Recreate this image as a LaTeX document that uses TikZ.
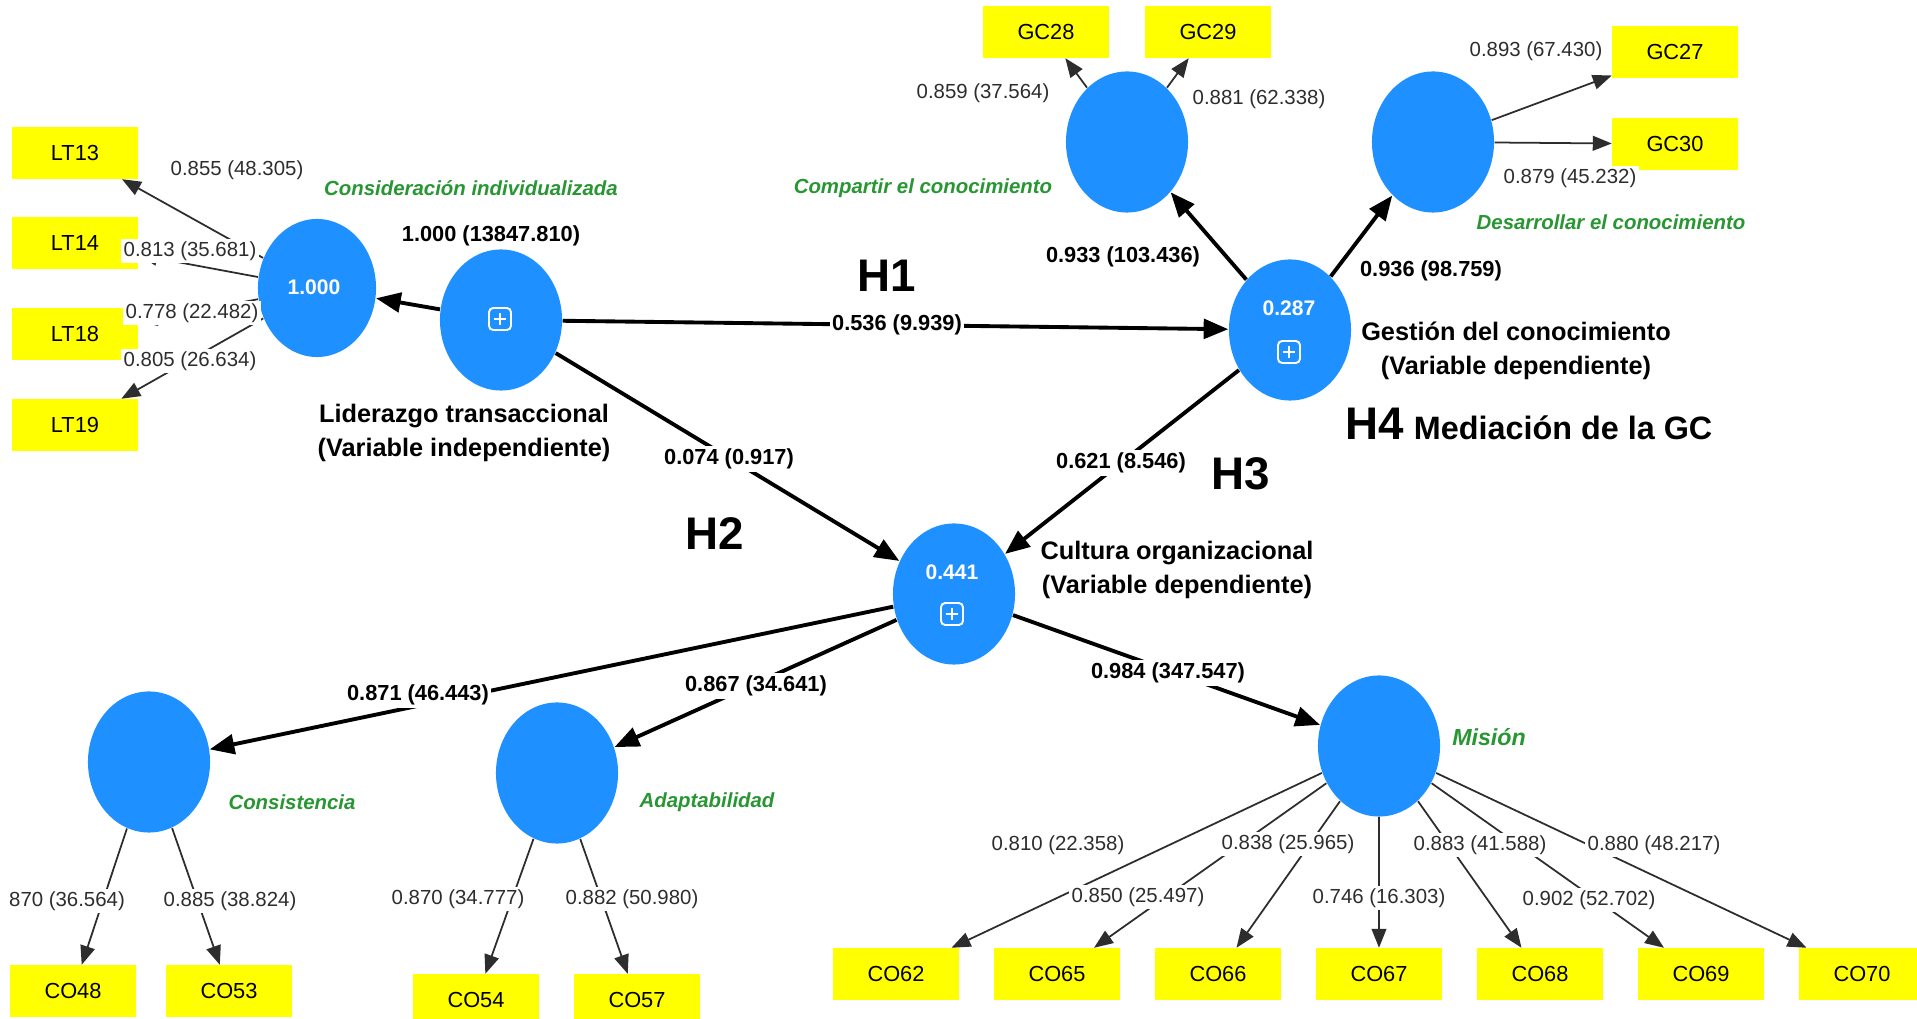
\documentclass[tikz,border=0pt]{standalone}
\usepackage{fontspec}
\setmainfont{Liberation Sans}
\usetikzlibrary{shapes.geometric,arrows.meta}
\definecolor{plsblue}{RGB}{30,144,255}
\definecolor{indyellow}{RGB}{255,255,0}
\definecolor{dimgreen}{RGB}{40,150,50}
\definecolor{coefgray}{RGB}{45,45,45}
\tikzset{
  lv/.style={ellipse, fill=plsblue, draw=none, minimum width=1.22cm, minimum height=1.41cm, inner sep=0pt},
  ind/.style={rectangle, fill=indyellow, minimum width=1.25cm, minimum height=0.51cm, inner sep=0pt, font=\fontsize{6.2}{7}\selectfont},
  coef/.style={fill=white, inner sep=0.7pt, text=coefgray, font=\fontsize{5.8}{6.5}\selectfont},
  pcoef/.style={fill=white, inner sep=0.7pt, font=\bfseries\fontsize{6.2}{7}\selectfont},
  hyp/.style={font=\bfseries\fontsize{13}{15}\selectfont, inner sep=0pt},
  vname/.style={font=\bfseries\fontsize{7.2}{9.7}\selectfont, align=center, inner sep=0pt},
  dname/.style={text=dimgreen, font=\bfseries\itshape\fontsize{5.8}{7}\selectfont, inner sep=0pt},
  rsq/.style={text=white, font=\bfseries\fontsize{6}{7}\selectfont, inner sep=0pt},
  patharrow/.style={draw=black, line width=1.1pt, -{Triangle[length=7pt,width=5.6pt]}},
  loadarrow/.style={draw=coefgray, line width=0.5pt, -{Triangle[length=5.4pt,width=4.2pt]}},
  plusbox/.style={draw=white, line width=0.55pt, rounded corners=1.2pt, minimum size=0.22cm, inner sep=0pt,
    path picture={
      \draw[white, line width=0.55pt]
        ([yshift=0.5mm]path picture bounding box.south) -- ([yshift=-0.5mm]path picture bounding box.north)
        ([xshift=0.5mm]path picture bounding box.west) -- ([xshift=-0.5mm]path picture bounding box.east);
    }}
}
\begin{document}
\begin{tikzpicture}[x=0.01cm, y=-0.01cm]
\useasboundingbox[fill=white] (0,0) rectangle (1917,1019);

% latent variables
\node[lv, minimum width=1.18cm, minimum height=1.38cm] (ci) at (317,288) {};
\node[lv] (lt) at (501,320) {};
\node[lv] (gc) at (1290,330) {};
\node[lv] (co) at (954,594) {};
\node[lv] (cmp) at (1127,142) {};
\node[lv] (des) at (1433,142) {};
\node[lv] (cons) at (149,762) {};
\node[lv] (adap) at (557,773) {};
\node[lv] (mis) at (1379,746) {};

% inner texts
\node[rsq] (rci) at (314,287) {1.000};
\node[rsq] (rgc) at (1289,308) {0.287};
\node[rsq] (rco) at (952,572) {0.441};
\node[plusbox] (pblt) at (500,319) {};
\node[plusbox] (pbgc) at (1289,352) {};
\node[plusbox] (pbco) at (952,614) {};

% indicators
\node[ind] (lt13) at (75,153) {LT13};
\node[ind] (lt14) at (75,243) {LT14};
\node[ind] (lt18) at (75,334) {LT18};
\node[ind] (lt19) at (75,425) {LT19};
\node[ind] (gc28) at (1046,32) {GC28};
\node[ind] (gc29) at (1208,32) {GC29};
\node[ind] (gc27) at (1675,52) {GC27};
\node[ind] (gc30) at (1675,144) {GC30};
\node[ind] (co48) at (73,991) {CO48};
\node[ind] (co53) at (229,991) {CO53};
\node[ind] (co54) at (476,1000) {CO54};
\node[ind] (co57) at (637,1000) {CO57};
\node[ind] (co62) at (896,974) {CO62};
\node[ind] (co65) at (1057,974) {CO65};
\node[ind] (co66) at (1218,974) {CO66};
\node[ind] (co67) at (1379,974) {CO67};
\node[ind] (co68) at (1540,974) {CO68};
\node[ind] (co69) at (1701,974) {CO69};
\node[ind] (co70) at (1862,974) {CO70};

% structural paths
\draw[patharrow] (lt) -- (ci);
\draw[patharrow] (lt) -- (gc);
\draw[patharrow] (lt) -- (co);
\draw[patharrow] (gc) -- (co);
\draw[patharrow] (gc) -- (cmp);
\draw[patharrow] (gc) -- (des);
\draw[patharrow] (co) -- (cons);
\draw[patharrow] (co) -- (adap);
\draw[patharrow] (co) -- (mis);

% loadings
\draw[loadarrow] (ci) -- (lt13);
\draw[loadarrow] (ci) -- (lt14);
\draw[loadarrow] (ci) -- (lt18);
\draw[loadarrow] (ci) -- (lt19);
\draw[loadarrow] (cmp) -- (gc28);
\draw[loadarrow] (cmp) -- (gc29);
\draw[loadarrow] (des) -- (gc27);
\draw[loadarrow] (des) -- (gc30);
\draw[loadarrow] (cons) -- (co48);
\draw[loadarrow] (cons) -- (co53);
\draw[loadarrow] (adap) -- (co54);
\draw[loadarrow] (adap) -- (co57);
\draw[loadarrow] (mis) -- (co62);
\draw[loadarrow] (mis) -- (co65);
\draw[loadarrow] (mis) -- (co66);
\draw[loadarrow] (mis) -- (co67);
\draw[loadarrow] (mis) -- (co68);
\draw[loadarrow] (mis) -- (co69);
\draw[loadarrow] (mis) -- (co70);

% loading labels
\node[coef] (k1) at (237,170) {0.855 (48.305)};
\node[coef] (k2) at (190,251) {0.813 (35.681)};
\node[coef] (k3) at (192,313) {0.778 (22.482)};
\node[coef] (k4) at (190,361) {0.805 (26.634)};
\node[coef] (k5) at (983,93) {0.859 (37.564)};
\node[coef] (k6) at (1259,99) {0.881 (62.338)};
\node[coef] (k7) at (1536,51) {0.893 (67.430)};
\node[coef] (k8) at (1570,178) {0.879 (45.232)};
\node[coef] (k9) at (67,901) {870 (36.564)};
\node[coef] (k10) at (230,901) {0.885 (38.824)};
\node[coef] (k11) at (458,899) {0.870 (34.777)};
\node[coef] (k12) at (632,899) {0.882 (50.980)};
\node[coef] (k13) at (1058,845) {0.810 (22.358)};
\node[coef] (k14) at (1288,844) {0.838 (25.965)};
\node[coef] (k15) at (1480,845) {0.883 (41.588)};
\node[coef] (k16) at (1654,845) {0.880 (48.217)};
\node[coef] (k17) at (1138,897) {0.850 (25.497)};
\node[coef] (k18) at (1379,898) {0.746 (16.303)};
\node[coef] (k19) at (1589,900) {0.902 (52.702)};

% path labels
\node[pcoef] (p1) at (491,236) {1.000 (13847.810)};
\node[pcoef] (p2) at (897,325) {0.536 (9.939)};
\node[pcoef] (p3) at (1123,257) {0.933 (103.436)};
\node[pcoef] (p4) at (1431,271) {0.936 (98.759)};
\node[pcoef] (p5) at (729,459) {0.074 (0.917)};
\node[pcoef] (p6) at (1121,463) {0.621 (8.546)};
\node[pcoef] (p7) at (418,695) {0.871 (46.443)};
\node[pcoef] (p8) at (756,686) {0.867 (34.641)};
\node[pcoef] (p9) at (1168,673) {0.984 (347.547)};

% hypotheses
\node[hyp] (h1) at (887,276) {H1};
\node[hyp] (h2) at (715,534) {H2};
\node[hyp] (h3) at (1241,474) {H3};
\node[inner sep=0pt, anchor=base west] (h4) at (1345,440) {{\bfseries\fontsize{13}{15}\selectfont H4} {\bfseries\fontsize{9.2}{11}\selectfont Mediación de la GC}};

% variable names
\node[vname] (nlt) at (464,433) {Liderazgo transaccional\\(Variable independiente)};
\node[vname] (ngc) at (1516,351) {Gestión del conocimiento\\(Variable dependiente)};
\node[vname] (nco) at (1177,570) {Cultura organizacional\\(Variable dependiente)};

% dimension names
\node[dname] (dci) at (471,188) {Consideración individualizada};
\node[dname] (dcmp) at (923,188) {Compartir el conocimiento};
\node[dname] (ddes) at (1611,222) {Desarrollar el conocimiento};
\node[dname] (dcons) at (292,802) {Consistencia};
\node[dname] (dadap) at (707,802) {Adaptabilidad};
\node[dname, font=\bfseries\itshape\fontsize{6.6}{8}\selectfont] (dmis) at (1489,737) {Misión};
\end{tikzpicture}
\end{document}
